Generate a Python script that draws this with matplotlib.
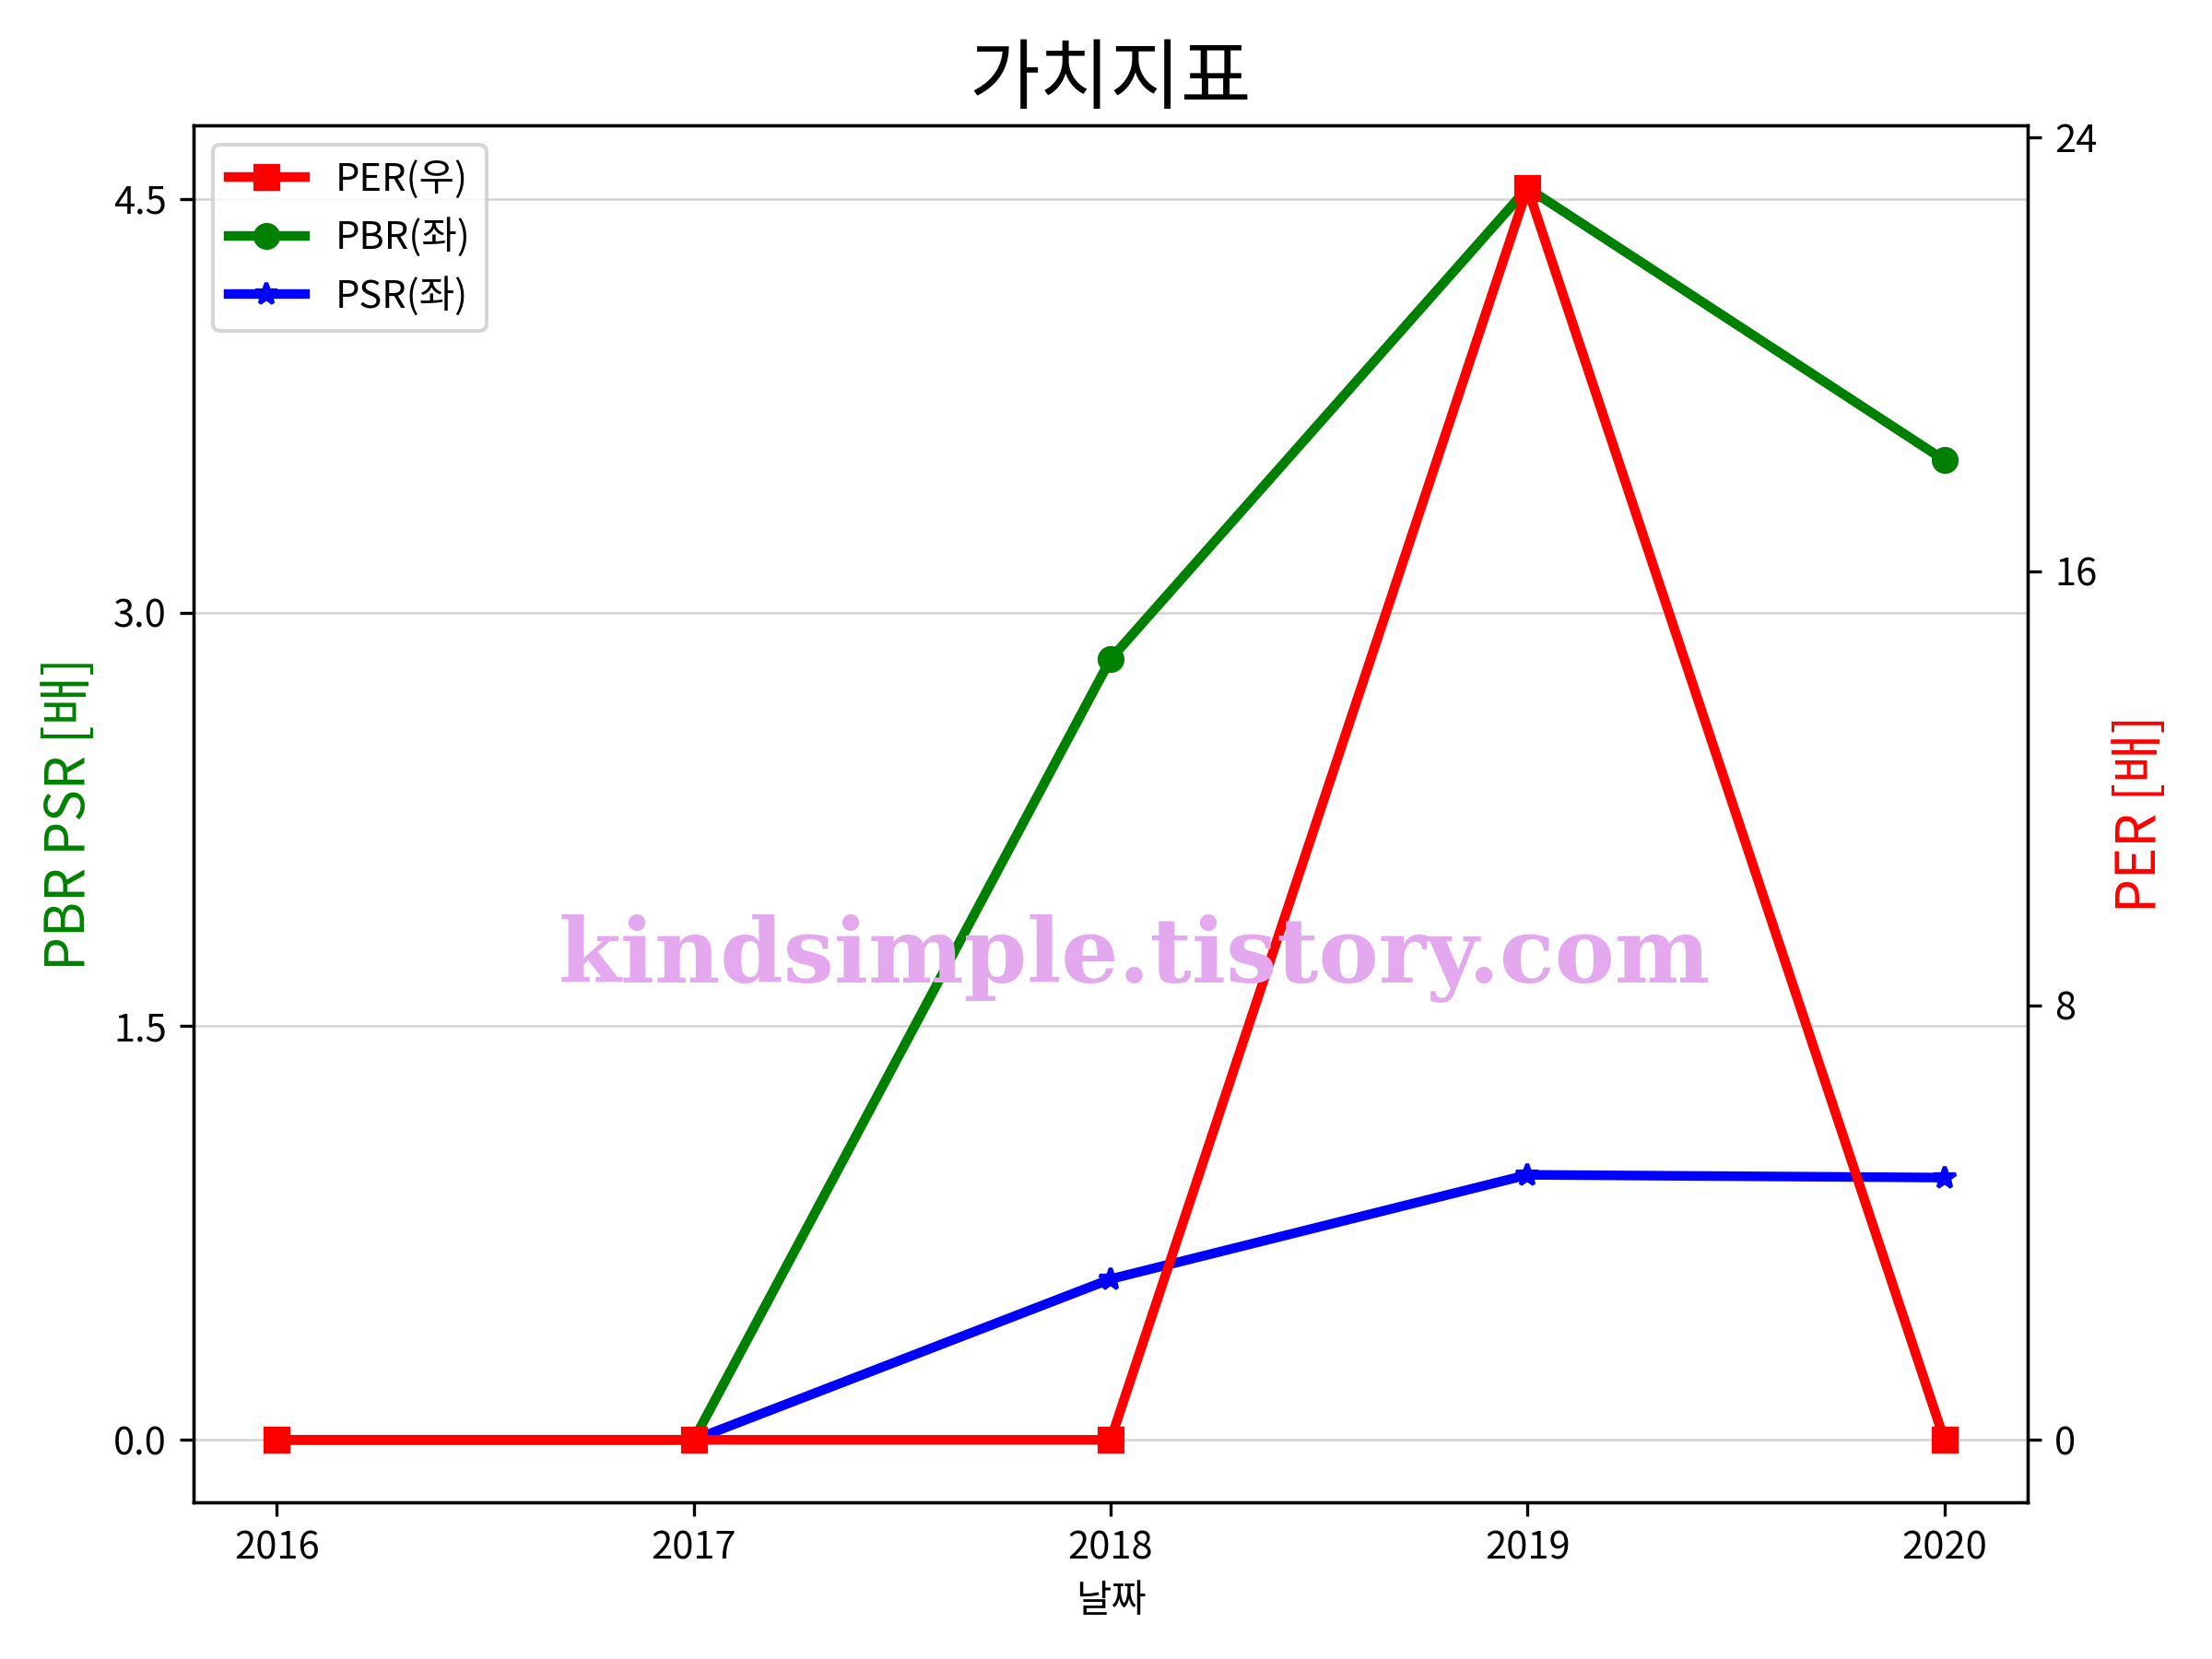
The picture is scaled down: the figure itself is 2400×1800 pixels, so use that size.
import matplotlib
matplotlib.use("Agg")
import matplotlib.pyplot as plt

plt.rcParams['font.family'] = ['Noto Sans CJK KR', 'DejaVu Sans']
plt.rcParams['axes.unicode_minus'] = False

years = ['2016', '2017', '2018', '2019', '2020']
per = [0, 0, 0, 23.06, 0]
pbr = [0, 0, 2.832, 4.54, 3.553]
psr = [0, 0, 0.583, 0.961, 0.951]

fig, ax1 = plt.subplots(figsize=(8, 6), dpi=300)
fig.subplots_adjust(left=0.0875, right=0.9167, top=0.9244, bottom=0.0944)
ax2 = ax1.twinx()

l2, = ax1.plot(years, pbr, color='green', marker='o', lw=2.5, label='PBR(좌)')
l3, = ax1.plot(years, psr, color='blue', marker='*', lw=2.5, label='PSR(좌)')
l1, = ax2.plot(years, per, color='red', marker='s', lw=2.5, label='PER(우)')

ax1.set_yticks([0.0, 1.5, 3.0, 4.5])
ax2.set_yticks([0, 8, 16, 24])
ax1.yaxis.grid(True, color='lightgray', lw=0.6)

ax1.set_ylabel('PBR PSR [배]', color='green', fontsize=14)
ax2.set_ylabel('PER [배]', color='red', fontsize=14)
ax1.set_xlabel('날짜')
ax1.set_title('가치지표', fontsize=20)

ax2.legend(handles=[l1, l2, l3], loc='upper left')

# watermark
fig.text(0.513, 0.422, 'kindsimple.tistory.com', fontsize=23.5, fontweight='bold',
         family='DejaVu Serif', color='#e4a8ee', ha='center', va='center', zorder=10)

fig.savefig('out.png', dpi=300)
